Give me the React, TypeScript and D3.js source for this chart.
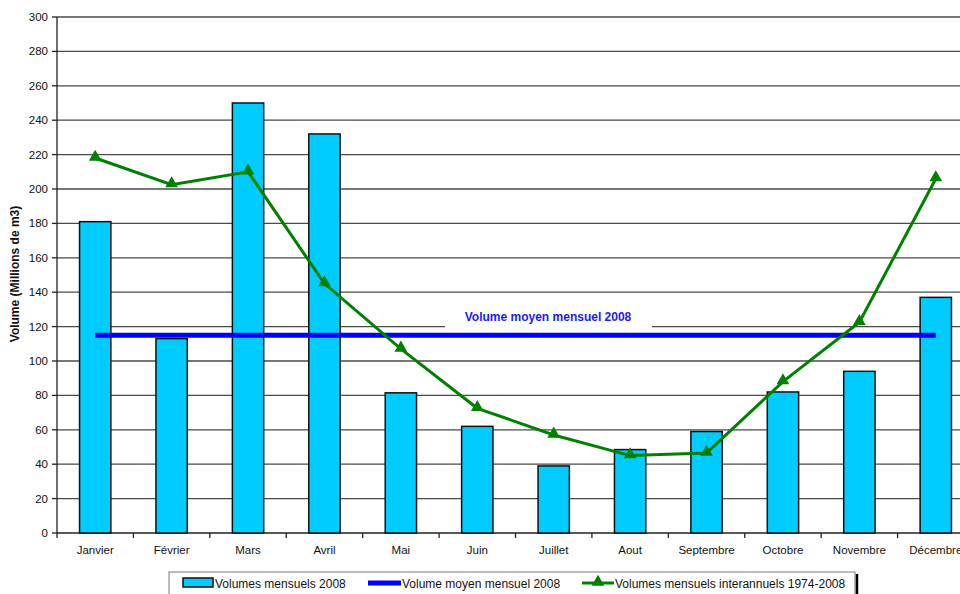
import React, { useEffect, useRef } from 'react';
import * as d3 from 'd3';

const months = ['Janvier', 'Février', 'Mars', 'Avril', 'Mai', 'Juin', 'Juillet', 'Aout', 'Septembre', 'Octobre', 'Novembre', 'Décembre'];
const volumes2008 = [181, 113, 250, 232, 81.5, 62, 39, 48.5, 59, 82, 94, 137];
const interannual = [218, 202.5, 210, 145, 107, 72.5, 57, 45, 46.5, 88, 122.5, 206];
const meanVolume = 115;
const yTicks = [0, 20, 40, 60, 80, 100, 120, 140, 160, 180, 200, 220, 240, 260, 280, 300];

const FONT = '"Liberation Sans", Arial, sans-serif';

const App: React.FC = () => {
  const svgRef = useRef<SVGSVGElement>(null);

  useEffect(() => {
    if (!svgRef.current) return;
    const svg = d3.select(svgRef.current);
    svg.selectAll('*').remove();

    const left = 57, top = 17, bottom = 533, right = 974;

    const x = d3.scaleBand<string>().domain(months).range([left, right]).paddingInner(0.59).paddingOuter(0.295);
    const xc = d3.scalePoint<string>().domain(months).range([left, right]).padding(0.5);
    const y = d3.scaleLinear().domain([0, 300]).range([bottom, top]);

    // grid
    svg.append('g').selectAll('line')
      .data(yTicks.filter(t => t > 0))
      .enter().append('line')
      .attr('x1', left).attr('x2', 960)
      .attr('y1', d => y(d)).attr('y2', d => y(d))
      .attr('stroke', '#4a4a4a').attr('stroke-width', 1.3);

    // y axis
    const yAxis = svg.append('g');
    yAxis.append('line').attr('x1', left).attr('x2', left).attr('y1', top).attr('y2', bottom)
      .attr('stroke', '#222').attr('stroke-width', 1.3);
    yAxis.selectAll('line.tick').data(yTicks).enter().append('line')
      .attr('class', 'tick')
      .attr('x1', left - 5).attr('x2', left)
      .attr('y1', d => y(d)).attr('y2', d => y(d))
      .attr('stroke', '#222').attr('stroke-width', 1.3);
    yAxis.selectAll('text').data(yTicks).enter().append('text')
      .attr('x', left - 9).attr('y', d => y(d) + 4)
      .attr('text-anchor', 'end')
      .attr('font-family', FONT).attr('font-size', 11.5).attr('fill', '#111')
      .text(d => d);

    svg.append('text')
      .attr('transform', 'translate(19,274) rotate(-90)')
      .attr('text-anchor', 'middle')
      .attr('font-family', FONT).attr('font-size', 12).attr('font-weight', 'bold').attr('fill', '#111')
      .text('Volume (Millions de m3)');

    // x axis
    const xAxis = svg.append('g');
    xAxis.append('line').attr('x1', left).attr('x2', 960).attr('y1', bottom).attr('y2', bottom)
      .attr('stroke', '#222').attr('stroke-width', 1.3);
    const step = x.step();
    xAxis.selectAll('line.tick').data(d3.range(months.length + 1)).enter().append('line')
      .attr('class', 'tick')
      .attr('x1', i => left + i * step).attr('x2', i => left + i * step)
      .attr('y1', bottom).attr('y2', bottom + 5)
      .attr('stroke', '#222').attr('stroke-width', 1.3);
    xAxis.selectAll('text').data(months).enter().append('text')
      .attr('x', d => xc(d)!).attr('y', 554)
      .attr('text-anchor', 'middle')
      .attr('font-family', FONT).attr('font-size', 11.5).attr('fill', '#111')
      .text(d => d);

    // bars
    svg.append('g').selectAll('rect')
      .data(volumes2008)
      .enter().append('rect')
      .attr('x', (d, i) => x(months[i])!)
      .attr('y', d => y(d))
      .attr('width', x.bandwidth())
      .attr('height', d => bottom - y(d))
      .attr('fill', '#00ccff')
      .attr('stroke', '#111').attr('stroke-width', 1.5);

    // mean label with white background
    const labelX = 548;
    svg.append('rect').attr('x', 445).attr('y', y(meanVolume) - 26).attr('width', 207).attr('height', 20).attr('fill', '#fff');
    svg.append('text')
      .attr('x', labelX).attr('y', y(meanVolume) - 14)
      .attr('text-anchor', 'middle')
      .attr('font-family', FONT).attr('font-size', 12).attr('font-weight', 'bold').attr('fill', '#1a1aff')
      .text('Volume moyen mensuel 2008');

    // mean line
    svg.append('line')
      .attr('x1', xc(months[0])!).attr('x2', xc(months[months.length - 1])!)
      .attr('y1', y(meanVolume)).attr('y2', y(meanVolume))
      .attr('stroke', '#0000ff').attr('stroke-width', 5);

    // interannual line
    const line = d3.line<number>().x((d, i) => xc(months[i])!).y(d => y(d));
    svg.append('path').datum(interannual)
      .attr('d', line)
      .attr('fill', 'none').attr('stroke', '#008000').attr('stroke-width', 3);
    const tri = d3.symbol().type(d3.symbolTriangle).size(70);
    svg.append('g').selectAll('path')
      .data(interannual)
      .enter().append('path')
      .attr('d', tri)
      .attr('transform', (d, i) => `translate(${xc(months[i])},${y(d) - 1})`)
      .attr('fill', '#008000');

    // legend
    const lg = svg.append('g');
    lg.append('rect').attr('x', 169).attr('y', 572).attr('width', 686).attr('height', 30)
      .attr('fill', '#fff').attr('stroke', '#777').attr('stroke-width', 1);
    lg.append('line').attr('x1', 857).attr('x2', 857).attr('y1', 574).attr('y2', 594)
      .attr('stroke', '#000').attr('stroke-width', 2.5);
    lg.append('rect').attr('x', 183).attr('y', 578).attr('width', 30).attr('height', 9)
      .attr('fill', '#00ccff').attr('stroke', '#111').attr('stroke-width', 1.5);
    lg.append('line').attr('x1', 368).attr('x2', 401).attr('y1', 583).attr('y2', 583)
      .attr('stroke', '#0000ff').attr('stroke-width', 5);
    lg.append('line').attr('x1', 582).attr('x2', 614).attr('y1', 583).attr('y2', 583)
      .attr('stroke', '#008000').attr('stroke-width', 3);
    lg.append('path').attr('d', tri).attr('transform', 'translate(598,582)').attr('fill', '#008000');
    const legendTexts = [
      { x: 215, t: 'Volumes mensuels 2008' },
      { x: 402, t: 'Volume moyen mensuel 2008' },
      { x: 615, t: 'Volumes mensuels interannuels 1974-2008' },
    ];
    lg.selectAll('text').data(legendTexts).enter().append('text')
      .attr('x', d => d.x).attr('y', 588)
      .attr('font-family', FONT).attr('font-size', 12).attr('fill', '#111')
      .text(d => d.t);
  }, []);

  return (
    <svg
      ref={svgRef}
      width={960}
      height={594}
      style={{ position: 'absolute', left: 0, top: 0, background: '#fff' }}
    />
  );
};

export default App;
